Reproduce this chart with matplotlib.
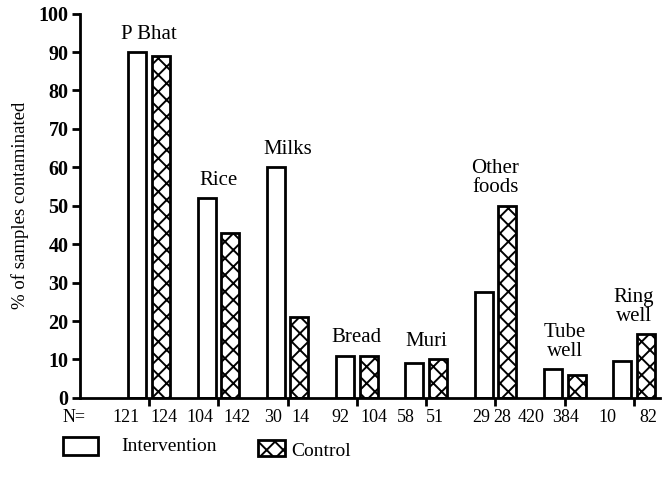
import matplotlib
matplotlib.use("Agg")
from matplotlib import pyplot as plt
from matplotlib.patches import Rectangle

plt.rcParams['font.family'] = ['Liberation Serif', 'DejaVu Serif']
plt.rcParams['hatch.linewidth'] = 1.4

groups = ["P Bhat", "Rice", "Milks", "Bread", "Muri", "Other\nfoods", "Tube\nwell", "Ring\nwell"]
intervention = [90, 52, 60, 11, 9, 27.5, 7.5, 9.5]
control = [89, 43, 21, 11, 10, 50, 6, 16.5]
n_intervention = [121, 104, 30, 92, 58, 29, 420, 10]
n_control = [124, 142, 14, 104, 51, 28, 384, 82]

# nudges for the N= row, the labels are not exactly under the bars
n_shift_i = [-0.16, -0.09, -0.04, -0.07, -0.12, -0.04, -0.31, -0.22]
n_shift_c = [0.05, 0.10, 0.02, 0.08, -0.04, -0.07, -0.16, 0.03]

fig = plt.figure(figsize=(6.65, 4.87), dpi=100)
ax = fig.add_axes([0.12, 0.183, 0.872, 0.789])

x = list(range(1, len(groups) + 1))
w = 0.26
off = 0.17
xi = [v - off for v in x]
xc = [v + off for v in x]

ax.bar(xi, intervention, width=w, color='white', edgecolor='black', linewidth=2)
ax.bar(xc, control, width=w, color='white', edgecolor='black', linewidth=2, hatch='xx')

for i in range(len(groups)):
    top = max(intervention[i], control[i])
    ax.annotate(groups[i], (x[i], top), xytext=(0, 6), textcoords='offset points',
                ha='center', va='bottom', fontsize=15, linespacing=1.0)

ax.set_xlim(0, 8.37)
ax.set_ylim(0, 100)
ax.set_yticks(range(0, 101, 10))
ax.set_xticks(x)
ax.set_xticklabels([])
for lab in ax.get_yticklabels():
    lab.set_fontweight('bold')
    lab.set_fontsize(14.5)
ax.tick_params(axis='y', direction='out', length=6, width=2, pad=2)
ax.tick_params(axis='x', direction='out', length=6, width=2)
ax.spines['top'].set_visible(False)
ax.spines['right'].set_visible(False)
ax.spines['left'].set_linewidth(2)
ax.spines['bottom'].set_linewidth(2)
ax.set_ylabel("% of samples contaminated", fontsize=13.5, labelpad=7)

tr = ax.get_xaxis_transform()
ny = -0.05
ax.text(-0.08, ny, "N=", transform=tr, ha='center', va='center', fontsize=13)
for i in range(len(groups)):
    ax.text(xi[i] + n_shift_i[i], ny, str(n_intervention[i]), transform=tr,
            ha='center', va='center', fontsize=13)
    ax.text(xc[i] + n_shift_c[i], ny, str(n_control[i]), transform=tr,
            ha='center', va='center', fontsize=13)

# legend drawn by hand, wide apart like the original
fig.patches.append(Rectangle((0.095, 0.066), 0.053, 0.037, transform=fig.transFigure,
                             facecolor='white', edgecolor='black', linewidth=2))
fig.text(0.182, 0.084, "Intervention", fontsize=14, va='center')
fig.patches.append(Rectangle((0.388, 0.064), 0.040, 0.032, transform=fig.transFigure,
                             facecolor='white', edgecolor='black', linewidth=2, hatch='xx'))
fig.text(0.438, 0.072, "Control", fontsize=14, va='center')

fig.savefig("out.png", dpi=100)
